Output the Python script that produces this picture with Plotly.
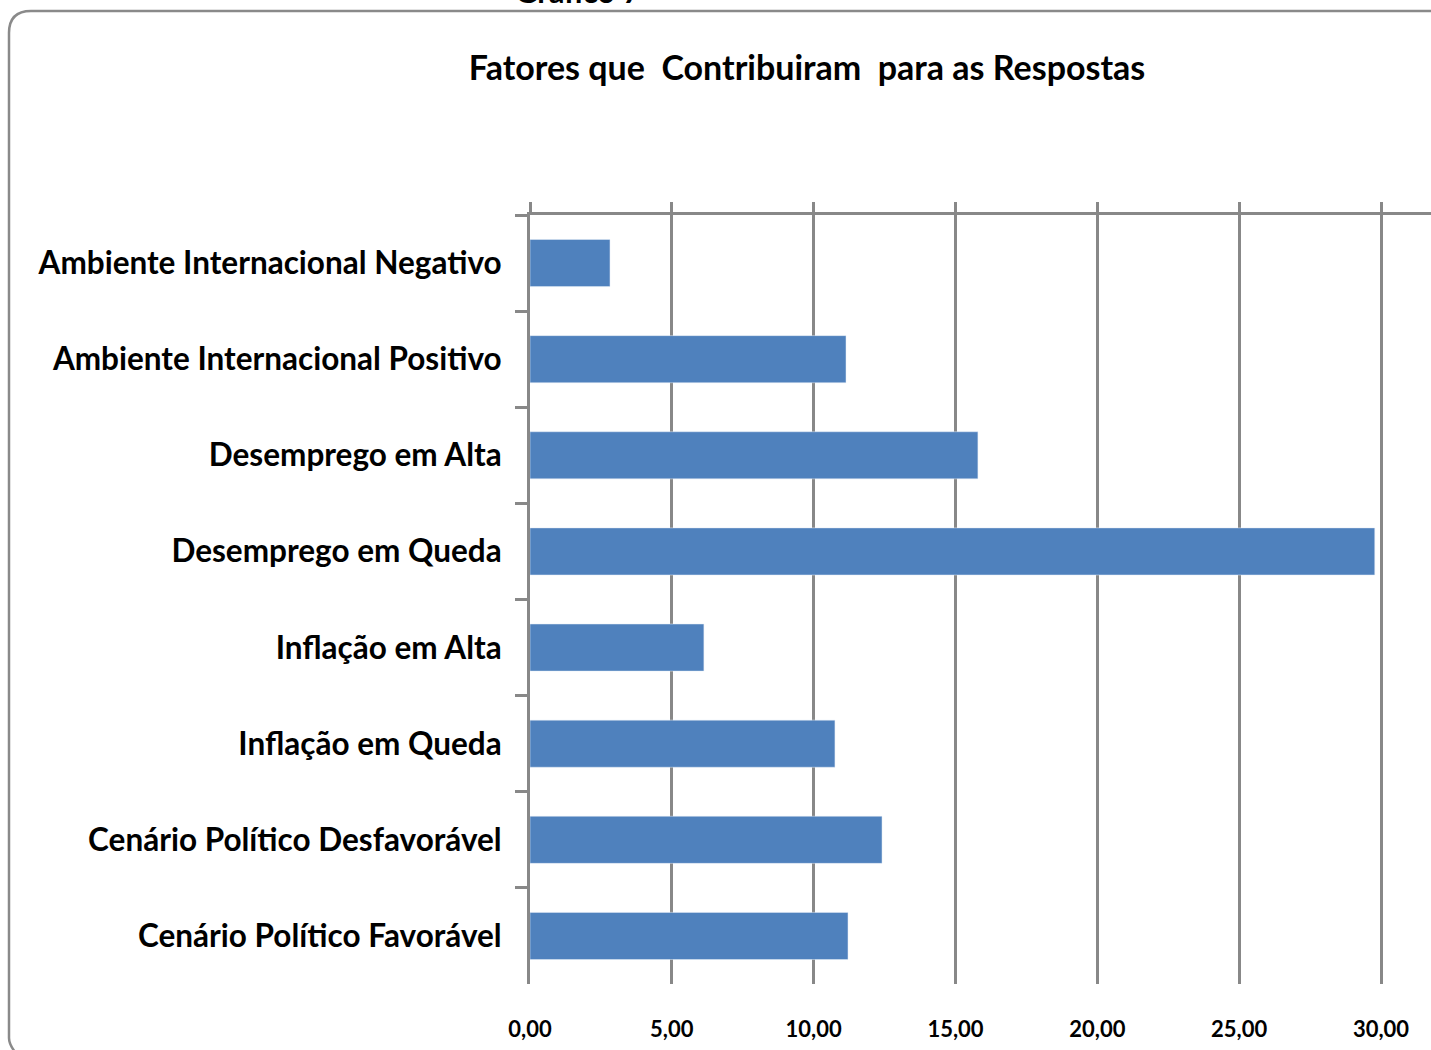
import plotly.graph_objects as go

categories = [
    "Ambiente Internacional Negativo",
    "Ambiente Internacional Positivo",
    "Desemprego em Alta",
    "Desemprego em Queda",
    "Inflação em Alta",
    "Inflação em Queda",
    "Cenário Político Desfavorável",
    "Cenário Político Favorável",
]
values = [2.82, 11.14, 15.79, 29.78, 6.13, 10.75, 12.41, 11.21]
tick_values = [0, 5, 10, 15, 20, 25, 30]

W, H = 1431, 1050
L, R, T, B = 530, 0, 215, 66
PW, PH = W - L - R, H - T - B
XMAX = 30 * (W - L) / (1381 - 530)
GRID = "#888888"
FONT = "Lato"


def px(x):
    return (x - L) / PW


def py(y):
    return (H - B - y) / PH


fig = go.Figure()
fig.add_trace(go.Bar(
    y=categories, x=values, orientation="h",
    marker=dict(color="#4F81BD", line=dict(width=0)),
    hoverinfo="x+y",
))
fig.add_trace(go.Bar(
    y=categories, x=values, orientation="h", xaxis="x2",
    marker=dict(color="rgba(0,0,0,0)"), hoverinfo="skip", showlegend=False,
))

fig.update_layout(
    width=W, height=H,
    margin=dict(l=L, r=R, t=T, b=B),
    paper_bgcolor="white", plot_bgcolor="white",
    showlegend=False,
    bargap=0.51,
    separators=",.",
    title=dict(
        text="<b>Fatores que\u00a0 Contribuiram\u00a0 para as Respostas</b>",
        x=807 / W, xanchor="center", y=1 - 68 / H, yanchor="middle",
        font=dict(family=FONT, size=34, color="black"),
    ),
    xaxis=dict(
        range=[0, XMAX], tickvals=tick_values, tickformat=".2f",
        showgrid=True, gridcolor=GRID, gridwidth=3,
        showline=False, zeroline=False, ticks="",
        tickfont=dict(family=FONT, size=22, color="black", weight="bold"),
        ticklabelstandoff=30,
    ),
    xaxis2=dict(
        range=[0, XMAX], tickvals=tick_values, overlaying="x", side="top",
        showline=True, linecolor=GRID, linewidth=3,
        ticks="outside", ticklen=10, tickwidth=3, tickcolor=GRID,
        showticklabels=False, showgrid=False, zeroline=False,
    ),
    yaxis=dict(
        type="category", autorange="reversed", tickson="boundaries",
        showline=True, linecolor=GRID, linewidth=3,
        ticks="outside", ticklen=12, tickwidth=3, tickcolor=GRID,
        showgrid=False, zeroline=False,
        tickfont=dict(family=FONT, size=31.5, color="black", weight="bold"),
        ticklabelstandoff=19,
    ),
)

# rounded chart border (cropped)
x0, y0, r = 9, 11, 22
path = (f"M {px(1500)},{py(y0)} L {px(x0 + r)},{py(y0)} "
        f"Q {px(x0)},{py(y0)} {px(x0)},{py(y0 + r)} "
        f"L {px(x0)},{py(1038)} Q {px(x0)},{py(1044)} {px(x0 + 6)},{py(1052)}")
fig.add_shape(type="path", path=path, xref="paper", yref="paper",
              line=dict(color="#8a8a8a", width=2.5), layer="below")

fig.add_annotation(
    text="<b>Gráfico 7</b>", xref="paper", yref="paper",
    x=px(578), y=py(12), xanchor="center", yanchor="bottom",
    showarrow=False, font=dict(family=FONT, size=31, color="black"),
)

fig.write_html(
    "out.html",
    config={"displayModeBar": False},
    post_script="document.body.style.margin='0';document.body.style.overflow='hidden';",
)
